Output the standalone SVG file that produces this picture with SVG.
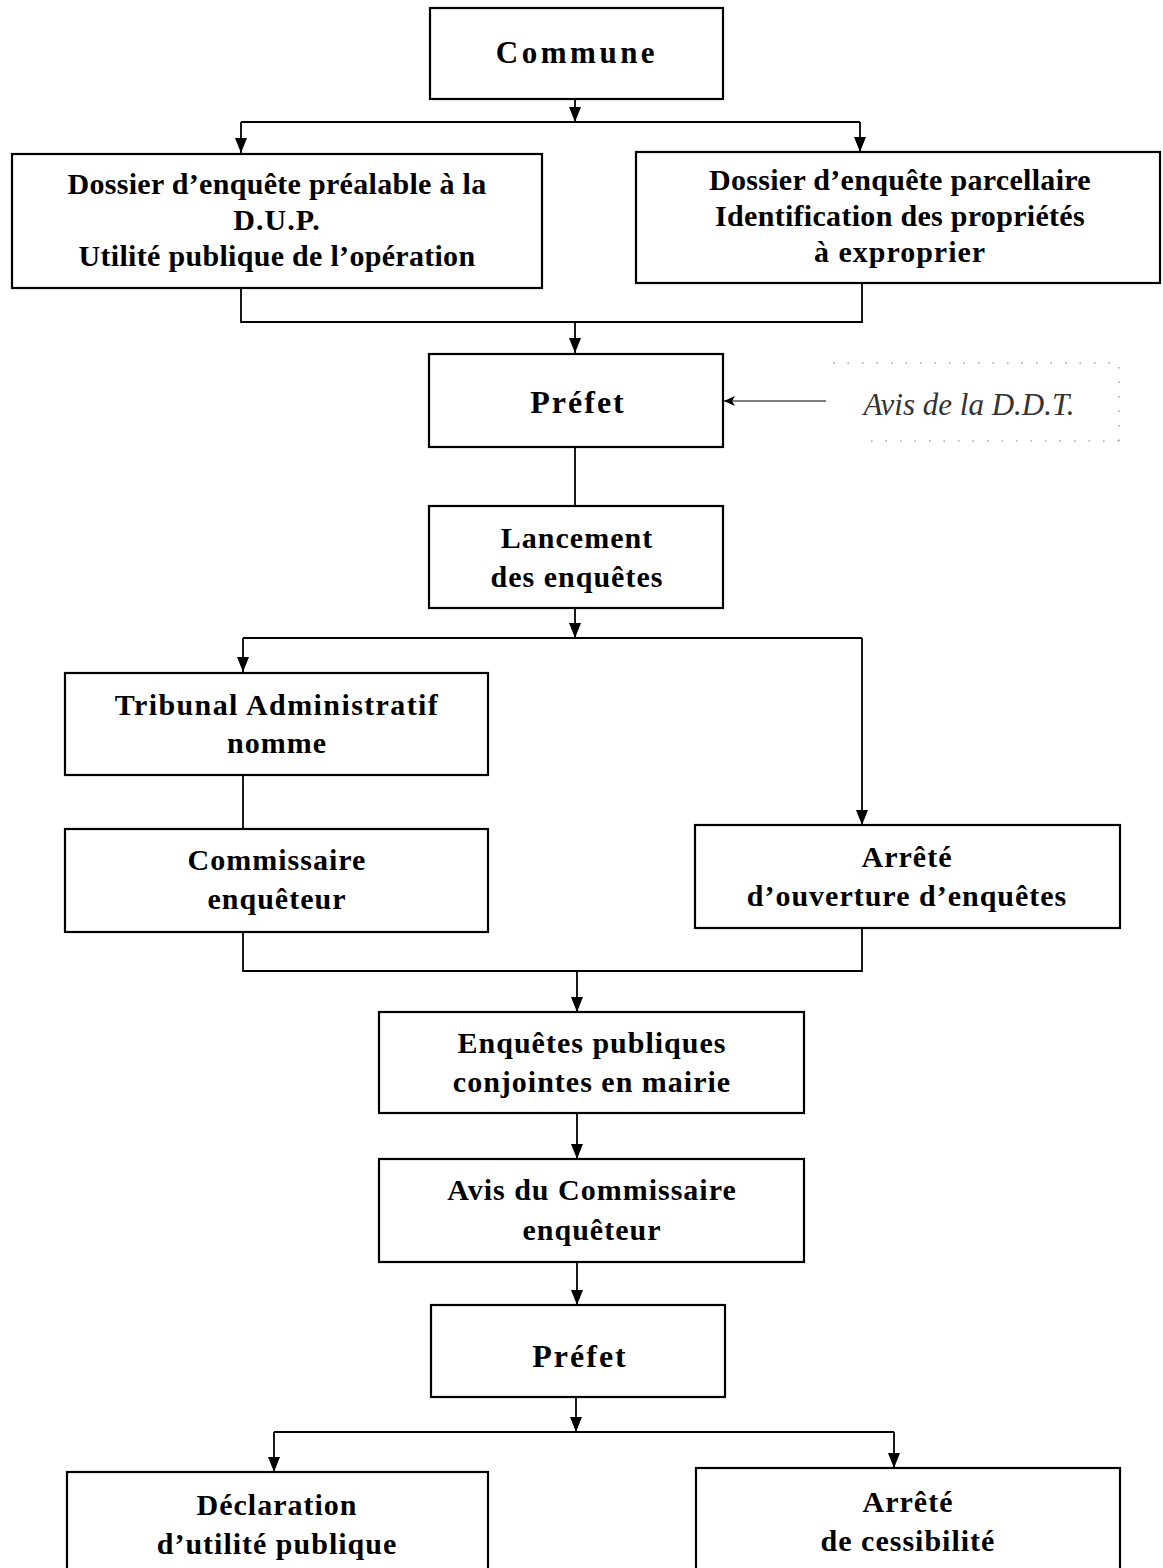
<svg xmlns="http://www.w3.org/2000/svg" width="1163" height="1568" viewBox="0 0 1163 1568">
<defs>
<style>
.box{fill:#fff;stroke:#000;stroke-width:2.2}
.t{font-family:"Liberation Serif","Times New Roman",serif;font-weight:bold;font-size:30px;letter-spacing:1px;fill:#000;text-anchor:middle}
.pf{font-size:32px;letter-spacing:2px}
.c{fill:none;stroke:#000;stroke-width:1.8}
.thin{fill:none;stroke:#000;stroke-width:1.2}
.dot{fill:none;stroke:#777;stroke-width:1;stroke-dasharray:1.5 13}
.it{font-family:"Liberation Serif","Times New Roman",serif;font-style:italic;font-size:31px;fill:#333;text-anchor:middle}
</style>
<marker id="ah" viewBox="0 0 15 12" refX="15" refY="6" markerWidth="15" markerHeight="12" markerUnits="userSpaceOnUse" orient="auto">
<path d="M0,0 L15,6 L0,12 z" fill="#000"/>
</marker>
<marker id="ahs" viewBox="0 0 11 10" refX="11" refY="5" markerWidth="11" markerHeight="10" markerUnits="userSpaceOnUse" orient="auto">
<path d="M0,0 L11,5 L0,10 L3,5 z" fill="#000"/>
</marker>
</defs>
<rect width="1163" height="1568" fill="#fff"/>

<g id="connectors">
<path class="c" d="M575 99 V122" marker-end="url(#ah)"/>
<path class="c" d="M241 122 H860"/>
<path class="c" d="M241 122 V153" marker-end="url(#ah)"/>
<path class="c" d="M860 122 V152" marker-end="url(#ah)"/>
<path class="c" d="M241 288 V322 H862 V283"/>
<path class="c" d="M575 322 V353" marker-end="url(#ah)"/>
<path class="thin" d="M826 401 H724" marker-end="url(#ahs)"/>
<path class="c" d="M575 447 V505"/>
<path class="c" d="M575 608 V638" marker-end="url(#ah)"/>
<path class="c" d="M243 638 H862"/>
<path class="c" d="M243 638 V672" marker-end="url(#ah)"/>
<path class="c" d="M862 638 V825" marker-end="url(#ah)"/>
<path class="c" d="M243 775 V828"/>
<path class="c" d="M243 932 V971 H862 V928"/>
<path class="c" d="M577 971 V1012" marker-end="url(#ah)"/>
<path class="c" d="M577 1113 V1159" marker-end="url(#ah)"/>
<path class="c" d="M577 1262 V1305" marker-end="url(#ah)"/>
<path class="c" d="M576 1397 V1432" marker-end="url(#ah)"/>
<path class="c" d="M274 1432 H894"/>
<path class="c" d="M274 1432 V1472" marker-end="url(#ah)"/>
<path class="c" d="M894 1432 V1468" marker-end="url(#ah)"/>
</g>

<g id="commune">
<rect class="box" x="430" y="8" width="293" height="91"/>
<text class="t" x="577" y="63" style="font-size:31px;letter-spacing:3.5px">Commune</text>
</g>

<g id="dossier-dup">
<rect class="box" x="12" y="154" width="530" height="134"/>
<text class="t" x="277" y="194" style="letter-spacing:0.3px">Dossier d’enquête préalable à la</text>
<text class="t" x="277" y="230">D.U.P.</text>
<text class="t" x="277" y="266" style="letter-spacing:0.3px">Utilité publique de l’opération</text>
</g>

<g id="dossier-parcellaire">
<rect class="box" x="636" y="152" width="524" height="131"/>
<text class="t" x="900" y="190" style="letter-spacing:0.3px">Dossier d’enquête parcellaire</text>
<text class="t" x="900" y="226" style="letter-spacing:0.3px">Identification des propriétés</text>
<text class="t" x="900" y="262">à exproprier</text>
</g>

<g id="prefet-1">
<rect class="box" x="429" y="354" width="294" height="93"/>
<text class="t pf" x="578" y="413">Préfet</text>
</g>

<g id="avis-ddt">
<path class="dot" d="M833 363 H1119 V445 M1119 441 H867"/>
<text class="it" x="969" y="415">Avis de la D.D.T.</text>
</g>

<g id="lancement">
<rect class="box" x="429" y="506" width="294" height="102"/>
<text class="t" x="577" y="548">Lancement</text>
<text class="t" x="577" y="587">des enquêtes</text>
</g>

<g id="tribunal">
<rect class="box" x="65" y="673" width="423" height="102"/>
<text class="t" x="277" y="715" style="letter-spacing:1.4px">Tribunal Administratif</text>
<text class="t" x="277" y="753">nomme</text>
</g>

<g id="commissaire">
<rect class="box" x="65" y="829" width="423" height="103"/>
<text class="t" x="277" y="870">Commissaire</text>
<text class="t" x="277" y="909">enquêteur</text>
</g>

<g id="arrete-ouverture">
<rect class="box" x="695" y="825" width="425" height="103"/>
<text class="t" x="907" y="867">Arrêté</text>
<text class="t" x="907" y="906">d’ouverture d’enquêtes</text>
</g>

<g id="enquetes-publiques">
<rect class="box" x="379" y="1012" width="425" height="101"/>
<text class="t" x="592" y="1053">Enquêtes publiques</text>
<text class="t" x="592" y="1092">conjointes en mairie</text>
</g>

<g id="avis-commissaire">
<rect class="box" x="379" y="1159" width="425" height="103"/>
<text class="t" x="592" y="1200">Avis du Commissaire</text>
<text class="t" x="592" y="1240">enquêteur</text>
</g>

<g id="prefet-2">
<rect class="box" x="431" y="1305" width="294" height="92"/>
<text class="t pf" x="580" y="1367">Préfet</text>
</g>

<g id="declaration">
<rect class="box" x="67" y="1472" width="421" height="120"/>
<text class="t" x="277" y="1515">Déclaration</text>
<text class="t" x="277" y="1554">d’utilité publique</text>
</g>

<g id="arrete-cessibilite">
<rect class="box" x="696" y="1468" width="424" height="124"/>
<text class="t" x="908" y="1512">Arrêté</text>
<text class="t" x="908" y="1551">de cessibilité</text>
</g>
</svg>
